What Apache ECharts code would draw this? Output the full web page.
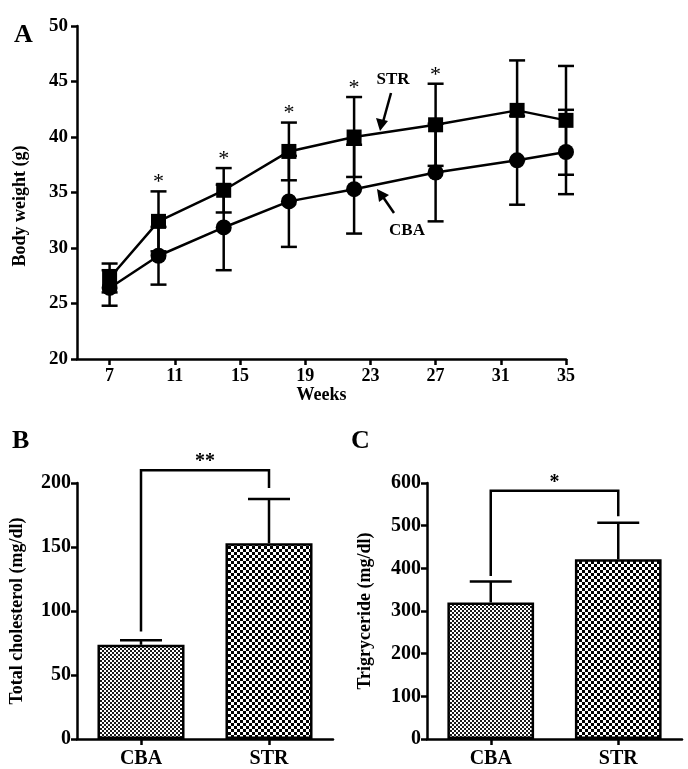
<!DOCTYPE html>
<html><head><meta charset="utf-8">
<script src="https://cdn.jsdelivr.net/npm/echarts@6/dist/echarts.min.js"></script>
<style>html,body{margin:0;padding:0;background:#fff}#c{width:688px;height:769px}</style>
</head><body><div id="c"></div>
<script>
// ---- Panel A data ----
const weeks = [7, 10, 14, 18, 22, 27, 32, 35];
const strMean = [27.3, 32.4, 35.2, 38.7, 40.0, 41.1, 42.4, 41.5];
const strSD = [1.3, 2.7, 2.0, 2.6, 3.6, 3.7, 4.5, 4.9];
const cbaMean = [26.4, 29.3, 31.85, 34.2, 35.3, 36.8, 37.9, 38.65];
const cbaSD = [1.6, 2.6, 3.85, 4.1, 4.0, 4.4, 4.0, 3.8];
const sigWeeks = [10, 14, 18, 22, 27];
const xTicks = [7, 11, 15, 19, 23, 27, 31, 35];
// ---- Panel B / C data ----
const groups = ['CBA', 'STR'];
const cholMean = [73.6, 152.9];
const cholSD = [3.6, 34.6];
const trigMean = [320, 421];
const trigSD = [49, 86];
const cholBracket = [0, 1, 210, 84, 196];
const cholSig = '**';
const trigBracket = [0, 1, 582, 382, 522];
const trigSig = '*';

const FONT = '"Liberation Serif", "Times New Roman", serif';
const LW = 2.5;

function checker(cell, color) {
  const c = document.createElement('canvas');
  c.width = c.height = cell * 2;
  const g = c.getContext('2d');
  g.fillStyle = '#fff'; g.fillRect(0, 0, cell * 2, cell * 2);
  g.fillStyle = color;
  g.fillRect(0, 0, cell, cell);
  g.fillRect(cell, cell, cell, cell);
  return c;
}
const finePat = { image: checker(2, '#1a1a1a'), repeat: 'repeat' };
const coarsePat = { image: checker(3, '#000'), repeat: 'repeat' };

function ln(x1, y1, x2, y2) {
  return { type: 'line', shape: { x1, y1, x2, y2 }, style: { stroke: '#000', lineWidth: LW } };
}

function errA(params, api) {
  const x = api.value(0), lo = api.value(1), hi = api.value(2);
  const p1 = api.coord([x, hi]), p2 = api.coord([x, lo]);
  const w = 8;
  return { type: 'group', children: [
    ln(p1[0], p1[1], p2[0], p2[1]),
    ln(p1[0] - w, p1[1], p1[0] + w, p1[1]),
    ln(p2[0] - w, p2[1], p2[0] + w, p2[1])
  ]};
}
function errBar(params, api) {
  const x = api.value(0), m = api.value(1), hi = api.value(2);
  const p1 = api.coord([x, hi]), p2 = api.coord([x, m]);
  const w = 21;
  return { type: 'group', children: [
    ln(p1[0], p1[1], p2[0], p2[1]),
    ln(p1[0] - w, p1[1], p1[0] + w, p1[1])
  ]};
}
function bracket(label) {
  return function (params, api) {
    const a = api.value(0), b = api.value(1), top = api.value(2), l = api.value(3), r = api.value(4);
    const pTL = api.coord([a, top]), pBL = api.coord([a, l]);
    const pTR = api.coord([b, top]), pBR = api.coord([b, r]);
    return { type: 'group', children: [
      { type: 'polyline', shape: { points: [[pBL[0], pBL[1]], [pTL[0], pTL[1]], [pTR[0], pTR[1]], [pBR[0], pBR[1]]] },
        style: { stroke: '#000', lineWidth: LW, fill: null } },
      { type: 'text', x: (pTL[0] + pTR[0]) / 2, y: pTL[1] + 2,
        style: { text: label, font: 'bold 20px ' + FONT, fill: '#000', align: 'center', verticalAlign: 'bottom' } }
    ]};
  };
}
function starItem(params, api) {
  const x = api.value(0), y = api.value(1);
  const p = api.coord([x, y]);
  return { type: 'text', x: p[0], y: p[1] + 2,
    style: { text: '*', font: '22px ' + FONT, fill: '#000', align: 'center', verticalAlign: 'bottom' } };
}

const labelStyle = { color: '#000', fontFamily: FONT, fontWeight: 'bold', fontSize: 19 };
const axisLine = { show: true, lineStyle: { color: '#000', width: LW } };
const axisTick = { show: true, length: 6, lineStyle: { color: '#000', width: LW } };
const nameStyle = { color: '#000', fontFamily: FONT, fontWeight: 'bold', fontSize: 18 };

const chart = echarts.init(document.getElementById('c'), null, { renderer: 'canvas' });
const option = {
  animation: false,
  backgroundColor: '#fff',
  grid: [
    { left: 77, top: 26, width: 489, height: 333 },
    { left: 77, top: 483, width: 256, height: 258 },
    { left: 427, top: 483, width: 255, height: 258 }
  ],
  xAxis: [
    { gridIndex: 0, type: 'value', min: 5, max: 35, name: 'Weeks', nameLocation: 'middle', nameGap: 27,
      nameTextStyle: nameStyle, axisLine, splitLine: { show: false },
      axisTick: Object.assign({ customValues: xTicks }, axisTick),
      axisLabel: Object.assign({ customValues: xTicks, margin: 8 }, labelStyle, { fontSize: 18 }) },
    { gridIndex: 1, type: 'category', data: groups, axisLine,
      axisTick: Object.assign({ alignWithLabel: true }, axisTick),
      axisLabel: Object.assign({ margin: 10 }, labelStyle, { fontSize: 20 }) },
    { gridIndex: 2, type: 'category', data: groups, axisLine,
      axisTick: Object.assign({ alignWithLabel: true }, axisTick),
      axisLabel: Object.assign({ margin: 10 }, labelStyle, { fontSize: 20 }) }
  ],
  yAxis: [
    { gridIndex: 0, type: 'value', min: 20, max: 50, interval: 5,
      axisLine, axisTick,
      splitLine: { show: false }, axisLabel: Object.assign({ margin: 9 }, labelStyle) },
    { gridIndex: 1, type: 'value', min: 0, max: 200, interval: 50, name: 'Total cholesterol (mg/dl)',
      nameLocation: 'middle', nameGap: 51, nameTextStyle: nameStyle, axisLine, axisTick,
      splitLine: { show: false }, axisLabel: Object.assign({ margin: 6 }, labelStyle, { fontSize: 20 }) },
    { gridIndex: 2, type: 'value', min: 0, max: 600, interval: 100, name: 'Trigryceride (mg/dl)',
      nameLocation: 'middle', nameGap: 53, nameTextStyle: nameStyle, axisLine, axisTick,
      splitLine: { show: false }, axisLabel: Object.assign({ margin: 6 }, labelStyle, { fontSize: 20 }) }
  ],
  series: [
    { type: 'custom', xAxisIndex: 0, yAxisIndex: 0, z: 1, renderItem: errA,
      data: weeks.map((w, i) => [w, strMean[i] - strSD[i], strMean[i] + strSD[i]]) },
    { type: 'custom', xAxisIndex: 0, yAxisIndex: 0, z: 1, renderItem: errA,
      data: weeks.map((w, i) => [w, cbaMean[i] - cbaSD[i], cbaMean[i] + cbaSD[i]]) },
    { type: 'line', name: 'STR', xAxisIndex: 0, yAxisIndex: 0, z: 3, symbol: 'rect', symbolSize: 15,
      itemStyle: { color: '#000' }, lineStyle: { color: '#000', width: LW },
      data: weeks.map((w, i) => [w, strMean[i]]) },
    { type: 'line', name: 'CBA', xAxisIndex: 0, yAxisIndex: 0, z: 3, symbol: 'circle', symbolSize: 16,
      itemStyle: { color: '#000' }, lineStyle: { color: '#000', width: LW },
      data: weeks.map((w, i) => [w, cbaMean[i]]) },
    { type: 'custom', xAxisIndex: 0, yAxisIndex: 0, z: 4, renderItem: starItem,
      data: sigWeeks.map(w => { const i = weeks.indexOf(w); return [w, strMean[i] + strSD[i]]; }) },
    // Panel B
    { type: 'bar', xAxisIndex: 1, yAxisIndex: 1, barWidth: '68%', z: 2,
      data: cholMean.map((v, i) => ({ value: v, itemStyle: { color: i === 0 ? finePat : coarsePat, borderColor: '#000', borderWidth: LW } })) },
    { type: 'custom', xAxisIndex: 1, yAxisIndex: 1, z: 1, renderItem: errBar,
      data: cholMean.map((v, i) => [i, v, v + cholSD[i]]) },
    { type: 'custom', xAxisIndex: 1, yAxisIndex: 1, z: 3, renderItem: bracket(cholSig), data: [cholBracket] },
    // Panel C
    { type: 'bar', xAxisIndex: 2, yAxisIndex: 2, barWidth: '68%', z: 2,
      data: trigMean.map((v, i) => ({ value: v, itemStyle: { color: i === 0 ? finePat : coarsePat, borderColor: '#000', borderWidth: LW } })) },
    { type: 'custom', xAxisIndex: 2, yAxisIndex: 2, z: 1, renderItem: errBar,
      data: trigMean.map((v, i) => [i, v, v + trigSD[i]]) },
    { type: 'custom', xAxisIndex: 2, yAxisIndex: 2, z: 3, renderItem: bracket(trigSig), data: [trigBracket] }
  ],
  graphic: [
    { type: 'text', x: 20, y: 206, rotation: Math.PI / 2,
      style: { text: 'Body weight (g)', font: 'bold 18px ' + FONT, fill: '#000', align: 'center', verticalAlign: 'middle' } },
    { type: 'text', left: 14, top: 22, style: { text: 'A', font: 'bold 26px ' + FONT, fill: '#000' } },
    { type: 'text', left: 12, top: 428, style: { text: 'B', font: 'bold 26px ' + FONT, fill: '#000' } },
    { type: 'text', left: 351, top: 428, style: { text: 'C', font: 'bold 26px ' + FONT, fill: '#000' } },
    { type: 'text', x: 393, y: 80, style: { text: 'STR', font: 'bold 17px ' + FONT, fill: '#000', align: 'center', verticalAlign: 'middle' } },
    { type: 'text', x: 407, y: 231, style: { text: 'CBA', font: 'bold 17px ' + FONT, fill: '#000', align: 'center', verticalAlign: 'middle' } },
    { type: 'line', shape: { x1: 391, y1: 93, x2: 383, y2: 122 }, style: { stroke: '#000', lineWidth: 2.5 } },
    { type: 'polygon', shape: { points: [[380, 131], [376, 118], [388, 121]] }, style: { fill: '#000' } },
    { type: 'line', shape: { x1: 394, y1: 213, x2: 383, y2: 197 }, style: { stroke: '#000', lineWidth: 2.5 } },
    { type: 'polygon', shape: { points: [[377, 189], [379, 202], [389, 195]] }, style: { fill: '#000' } }
  ]
};
chart.setOption(option);
</script>
</body></html>
